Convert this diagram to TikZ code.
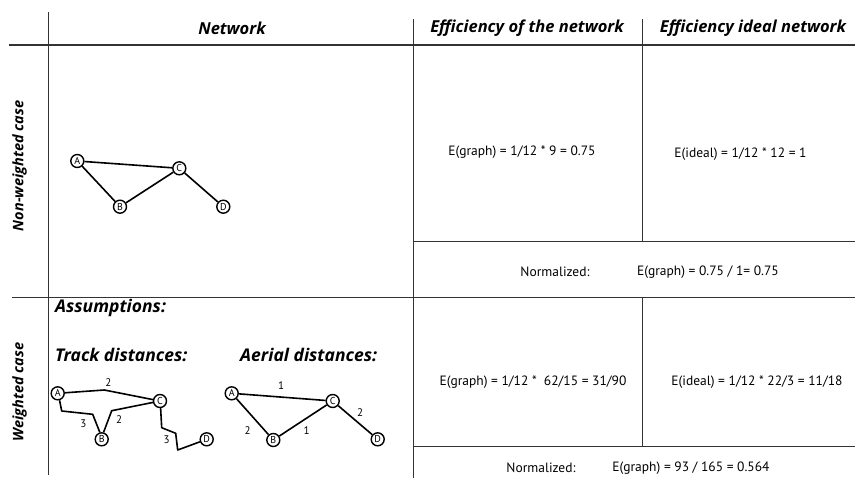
\documentclass[tikz,border=0pt]{standalone}
\usepackage{fontspec}
\setmainfont{PT Sans}
\newfontfamily\headfont{Open Sans}
\begin{document}
\begin{tikzpicture}[x=1pt,y=-1pt,
  grid/.style={draw=black!80,line width=0.9pt},
  head/.style={font=\headfont\fontsize{16.5}{18}\selectfont\bfseries\itshape,inner sep=0pt},
  whead/.style={font=\headfont\fontsize{17.5}{19}\selectfont\bfseries\itshape,inner sep=0pt,anchor=west},
  side/.style={font=\headfont\fontsize{14.5}{17}\selectfont\bfseries\itshape,inner sep=0pt,rotate=90},
  txt/.style={font=\fontsize{13.5}{15}\selectfont,inner sep=0pt},
  vx/.style={circle,draw=black,line width=1.4pt,minimum size=13pt,inner sep=0pt,font=\fontsize{10}{10}\selectfont},
  edge/.style={line width=1.6pt,line join=round},
  wl/.style={font=\fontsize{11}{12}\selectfont,inner sep=0pt}]
\useasboundingbox (0,0) rectangle (855,480);
\fill[white] (0,0) rectangle (855,480);
% grid
\draw[grid] (48,12) -- (48,475);
\draw[grid,line width=1.1pt] (9,45) -- (855,45);
\draw[grid] (413,19) -- (413,478);
\draw[grid] (642,19) -- (642,241);
\draw[grid] (642,297) -- (642,446);
\draw[grid] (413,241) -- (855,241);
\draw[grid] (12,297) -- (855,297);
\draw[grid] (413,446) -- (855,446);
% headers
\node[head] (hnet) at (232,28) {Network};
\node[head] (heff) at (527,28) {Efficiency of the network};
\node[head] (hid) at (753,28) {Efficiency ideal network};
\node[side] (snw) at (19.5,166) {Non-weighted case};
\node[side] (sw) at (19.5,392) {Weighted case};
% non-weighted graph
\node[vx] (A1) at (77.3,161) {A};
\node[vx] (B1) at (120,206.7) {B};
\node[vx] (C1) at (179.3,168.3) {C};
\node[vx] (D1) at (223.3,206.7) {D};
\draw[edge] (A1) -- (C1);
\draw[edge] (A1) -- (B1);
\draw[edge] (B1) -- (C1);
\draw[edge] (C1) -- (D1);
% formulas
\node[txt] (e1) at (522,152) {E(graph) = 1/12 * 9 = 0.75};
\node[txt] (i1) at (740.5,154) {E(ideal) = 1/12 * 12 = 1};
\node[txt] (n1) at (555,272) {Normalized:};
\node[txt] (r1) at (708,272) {E(graph) = 0.75 / 1= 0.75};
\node[txt] (e2) at (533,382) {E(graph) = 1/12 *\ \ 62/15 = 31/90};
\node[txt] (i2) at (757,382) {E(ideal) = 1/12 * 22/3 = 11/18};
\node[txt] (n2) at (541,468) {Normalized:};
\node[txt] (r2) at (691,468) {E(graph) = 93 / 165 = 0.564};
% weighted headings
\node[whead] (as) at (55,308) {Assumptions:};
\node[whead] (tr) at (55,355) {Track distances:};
\node[whead] (ae) at (240,355) {Aerial distances:};
% track graph
\node[vx] (A2) at (57.7,393.3) {A};
\node[vx] (B2) at (101.7,439.3) {B};
\node[vx] (C2) at (160,401) {C};
\node[vx] (D2) at (206.7,439.3) {D};
\coordinate (t1) at (104.3,390);
\coordinate (t2) at (61.7,411);
\coordinate (t3) at (92.7,414.3);
\coordinate (t4) at (111.7,410.7);
\coordinate (t5) at (161.7,427.7);
\coordinate (t6) at (175.7,433.3);
\coordinate (t7) at (177.7,450);
\draw[edge] (A2) -- (t1) -- (C2);
\draw[edge] (A2.-75) -- (t2) -- (t3) -- (B2.105);
\draw[edge] (B2.75) -- (t4) -- (C2);
\draw[edge] (C2.-85) -- (t5) -- (t6) -- (t7) -- (D2);
\node[wl] (l1) at (108.3,382.7) {2};
\node[wl] (l2) at (83.3,424) {3};
\node[wl] (l3) at (119,419.3) {2};
\node[wl] (l4) at (166.7,440) {3};
% aerial graph
\node[vx] (A3) at (231.7,393.3) {A};
\node[vx] (B3) at (273.3,440) {B};
\node[vx] (C3) at (332.7,401) {C};
\node[vx] (D3) at (377.7,439.3) {D};
\draw[edge] (A3) -- (C3);
\draw[edge] (A3) -- (B3);
\draw[edge] (B3) -- (C3);
\draw[edge] (C3) -- (D3);
\node[wl] (m1) at (281,386) {1};
\node[wl] (m2) at (247.7,430.7) {2};
\node[wl] (m3) at (306.7,430.7) {1};
\node[wl] (m4) at (360,412.7) {2};
\end{tikzpicture}
\end{document}
